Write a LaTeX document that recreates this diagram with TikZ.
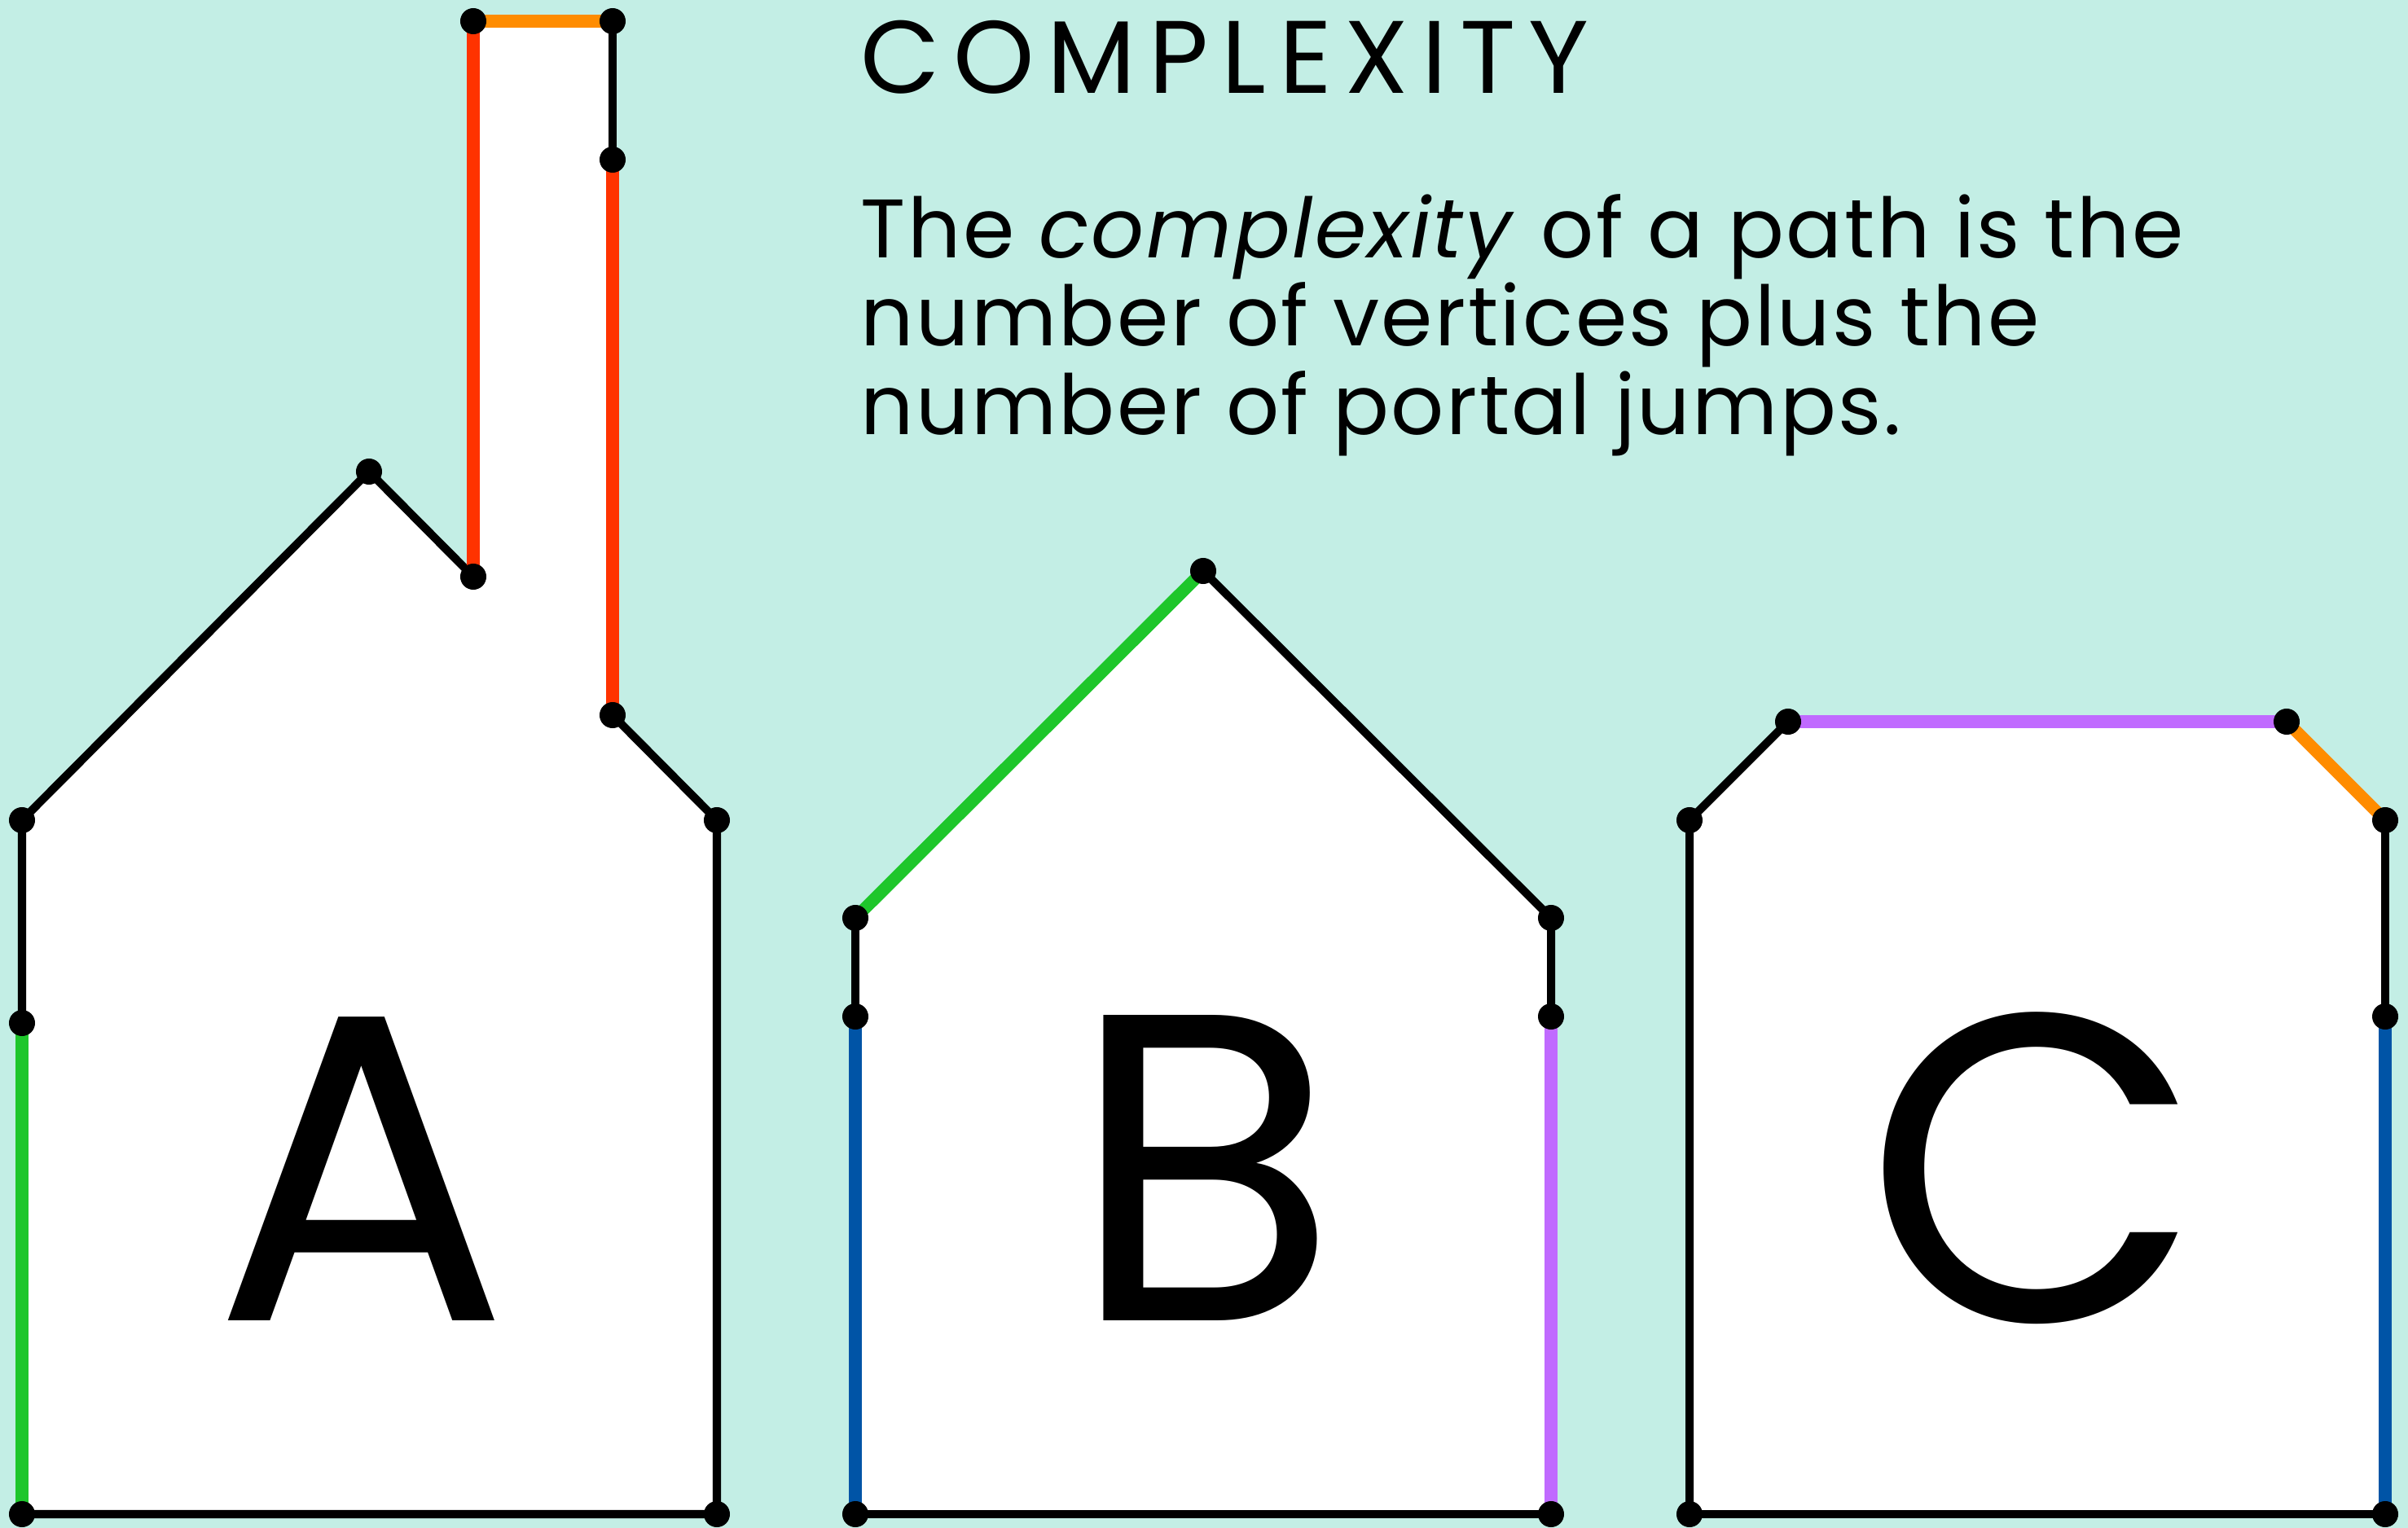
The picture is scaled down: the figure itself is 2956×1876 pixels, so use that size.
\documentclass[tikz,border=0pt]{standalone}
\usepackage{fontspec}
\setmainfont{Poppins}
\newfontfamily\headfont[LetterSpace=12.5]{Poppins}
\newfontfamily\bodyfont[LetterSpace=2.5]{Poppins}
\usetikzlibrary{positioning}
\definecolor{mint}{HTML}{C3EEE5}
\definecolor{flame}{HTML}{FF3300}
\definecolor{amber}{HTML}{FF8C00}
\definecolor{leaf}{HTML}{1EC62B}
\definecolor{ocean}{HTML}{0054A6}
\definecolor{lilac}{HTML}{C06AFF}
\tikzset{wall/.style={line width=2.85pt,draw=black,line cap=round},portal/.style={line width=4.3pt,line cap=butt},room/.style={fill=white,draw=none},glyph/.style={font=\fontsize{153}{153}\selectfont,inner sep=0pt,anchor=base},heading/.style={font=\headfont\fontsize{36}{36}\selectfont,inner sep=0pt,anchor=base west},body/.style={font=\bodyfont\fontsize{29}{29}\selectfont,inner sep=0pt,anchor=base west}}

\begin{document}
\begin{tikzpicture}[x=0.01cm,y=-0.01cm]
\fill[mint] (0,0) rectangle (2956,1876);
\useasboundingbox (0,0) rectangle (2956,1876);
% room A
\coordinate (a1) at (27,1859);
\coordinate (a2) at (27,1256);
\coordinate (a3) at (27,1007);
\coordinate (a4) at (453,579);
\coordinate (a5) at (581,708);
\coordinate (a6) at (581,26);
\coordinate (a7) at (752,26);
\coordinate (a8) at (752,196);
\coordinate (a9) at (752,878);
\coordinate (a10) at (880,1007);
\coordinate (a11) at (880,1859);
% room B
\coordinate (b1) at (1050,1859);
\coordinate (b2) at (1050,1248);
\coordinate (b3) at (1050,1127);
\coordinate (b4) at (1477,701);
\coordinate (b5) at (1904,1127);
\coordinate (b6) at (1904,1248);
\coordinate (b7) at (1904,1859);
% room C
\coordinate (c1) at (2074,1859);
\coordinate (c2) at (2074,1007);
\coordinate (c3) at (2195,886);
\coordinate (c4) at (2807,886);
\coordinate (c5) at (2928,1007);
\coordinate (c6) at (2928,1248);
\coordinate (c7) at (2928,1859);
\fill[room] (a1) -- (a3) -- (a4) -- (a5) -- (a6) -- (a7) -- (a9) -- (a10) -- (a11) -- cycle;
\fill[room] (b1) -- (b3) -- (b4) -- (b5) -- (b7) -- cycle;
\fill[room] (c1) -- (c2) -- (c3) -- (c4) -- (c5) -- (c7) -- cycle;
% walls
\draw[portal,leaf] (a1) -- (a2);
\draw[wall] (a2) -- (a3) -- (a4) -- (a5);
\draw[portal,flame] (a5) -- (a6);
\draw[portal,amber] (a6) -- (a7);
\draw[wall] (a7) -- (a8);
\draw[portal,flame] (a8) -- (a9);
\draw[wall] (a9) -- (a10) -- (a11) -- (a1);
\draw[portal,ocean] (b1) -- (b2);
\draw[wall] (b2) -- (b3);
\draw[portal,leaf] (b3) -- (b4);
\draw[wall] (b4) -- (b5) -- (b6);
\draw[portal,lilac] (b6) -- (b7);
\draw[wall] (b7) -- (b1);
\draw[wall] (c1) -- (c2) -- (c3);
\draw[portal,lilac] (c3) -- (c4);
\draw[portal,amber] (c4) -- (c5);
\draw[wall] (c5) -- (c6);
\draw[portal,ocean] (c6) -- (c7);
\draw[wall] (c7) -- (c1);
\foreach \p in {a1,a2,a3,a4,a5,a6,a7,a8,a9,a10,a11,b1,b2,b3,b4,b5,b6,b7,c1,c2,c3,c4,c5,c6,c7}
  \fill (\p) circle[radius=0.16cm];
% letters
\node[glyph] (la) at (444,1621) {A};
\node[glyph] (lb) at (1478,1621) {B};
\node[glyph] (lc) at (2497,1622) {C};
% text
\node[heading] (head) at (1056,115) {COMPLEXITY};
\node[body] (line1) at (1056,317) {The \textit{complexity} of a path is the};
\node[body] (line2) at (1056,425) {number of vertices plus the};
\node[body] (line3) at (1056,534) {number of portal jumps.};
\end{tikzpicture}
\end{document}
